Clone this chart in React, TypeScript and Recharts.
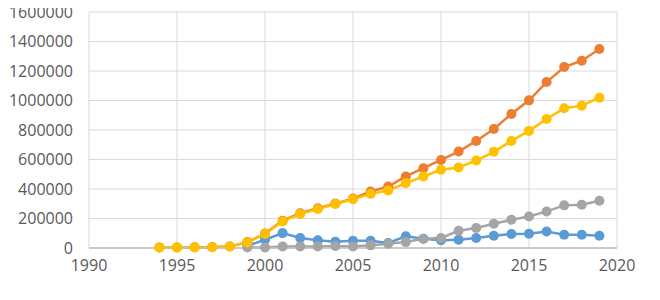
import React from "react";
import { LineChart, Line, XAxis, YAxis, CartesianGrid } from "recharts";

const years = [1994, 1995, 1996, 1997, 1998, 1999, 2000, 2001, 2002, 2003, 2004, 2005, 2006, 2007, 2008, 2009, 2010, 2011, 2012, 2013, 2014, 2015, 2016, 2017, 2018, 2019];

const blueValues: (number | null)[] = [null, null, null, null, null, 15000, 56000, 101000, 68000, 52000, 42000, 49000, 49000, 34000, 79000, 63000, 52000, 56000, 68000, 83000, 95000, 97000, 112000, 90000, 90000, 83000];
const orangeValues: (number | null)[] = [4000, 4000, 5000, 6000, 11000, 40000, 98000, 185000, 236000, 270000, 302000, 335000, 383000, 417000, 485000, 541000, 597000, 654000, 726000, 807000, 909000, 1001000, 1125000, 1227000, 1270000, 1349000];
const grayValues: (number | null)[] = [null, null, null, null, null, 3000, 3000, 11000, 11000, 11000, 14000, 11000, 18000, 29000, 40000, 63000, 68000, 117000, 135000, 164000, 191000, 214000, 248000, 289000, 293000, 320000];
const yellowValues: (number | null)[] = [4000, 4000, 4000, 5000, 10000, 38000, 95000, 180000, 230000, 264000, 298000, 330000, 367000, 390000, 440000, 485000, 530000, 546000, 593000, 652000, 726000, 794000, 875000, 947000, 965000, 1019000];

const xTicks = [1990, 1995, 2000, 2005, 2010, 2015, 2020];
const yTicks = [0, 200000, 400000, 600000, 800000, 1000000, 1200000, 1400000, 1600000];

const data = years.map((y, i) => ({
  year: y,
  blue: blueValues[i],
  orange: orangeValues[i],
  gray: grayValues[i],
  yellow: yellowValues[i],
}));

const series = [
  { key: "blue", color: "#5B9BD5" },
  { key: "orange", color: "#ED7D31" },
  { key: "gray", color: "#A5A5A5" },
  { key: "yellow", color: "#FFC000" },
];

export default function App() {
  return (
    <div style={{ width: 644, height: 292, marginTop: -8, fontFamily: "'Open Sans', sans-serif" }}>
      <LineChart
        width={644}
        height={292}
        data={data}
        margin={{ top: 12, right: 35, left: 0, bottom: 0 }}
      >
        <CartesianGrid stroke="#D9D9D9" strokeWidth={1} />
        <XAxis
          dataKey="year"
          type="number"
          domain={[1990, 2020]}
          ticks={xTicks}
          height={44}
          tickLine={false}
          tickSize={0}
          tickMargin={12}
          axisLine={{ stroke: "#BFBFBF", strokeWidth: 1.5 }}
          tick={{ fill: "#595959", fontSize: 16 }}
          interval={0}
        />
        <YAxis
          type="number"
          domain={[0, 1600000]}
          ticks={yTicks}
          width={81}
          tickLine={false}
          tickSize={0}
          tickMargin={16}
          axisLine={false}
          tick={{ fill: "#595959", fontSize: 16 }}
          interval={0}
        />
        {series.map((s) => (
          <Line
            key={s.key}
            dataKey={s.key}
            stroke={s.color}
            strokeWidth={2.5}
            dot={{ r: 5, fill: s.color, stroke: s.color, strokeWidth: 0 }}
            activeDot={false}
            isAnimationActive={false}
            connectNulls={false}
          />
        ))}
      </LineChart>
    </div>
  );
}
